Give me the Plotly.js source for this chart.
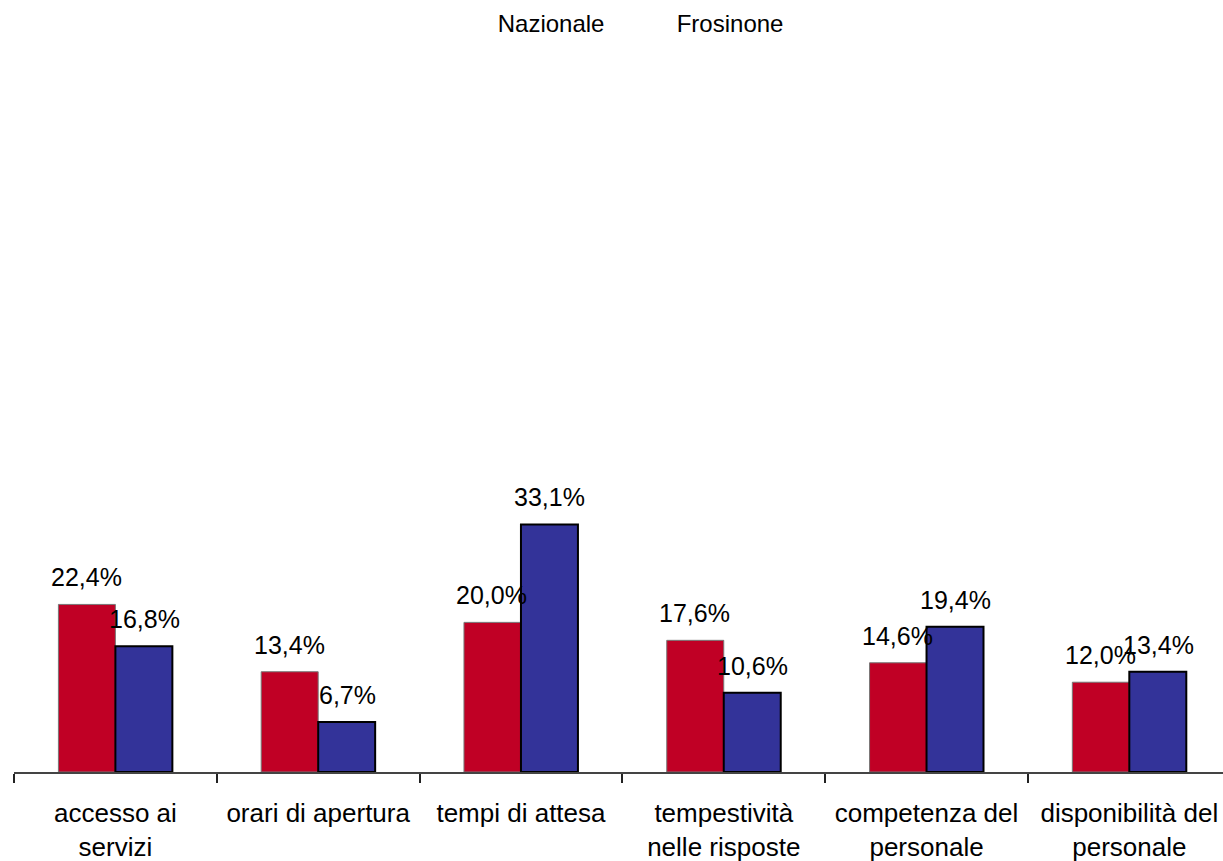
<!DOCTYPE html>
<html>
<head>
<meta charset="utf-8">
<script src="https://cdn.plot.ly/plotly-3.0.1.min.js"></script>
<style>html,body{margin:0;padding:0;background:#fff;}#chart{width:1223px;height:861px;}</style>
</head>
<body>
<div id="chart"></div>
<script>
const categories = ["accesso ai<br>servizi", "orari di apertura", "tempi di attesa", "tempestività<br>nelle risposte", "competenza del<br>personale", "disponibilità del<br>personale"];
const seriesNames = ["Nazionale", "Frosinone"];
const nazionale = [22.4, 13.4, 20.0, 17.6, 14.6, 12.0];
const frosinone = [16.8, 6.7, 33.1, 10.6, 19.4, 13.4];

const FONT = "Liberation Sans, Arial, sans-serif";
const fmt = v => v.toFixed(1).replace('.', ',') + '%';

const traces = [
  {type: 'bar', x: categories, y: nazionale, name: seriesNames[0], showlegend: false,
   marker: {color: '#C00025', line: {color: '#777777', width: 1}}, hoverinfo: 'skip'},
  {type: 'bar', x: categories, y: frosinone, name: seriesNames[1], showlegend: false,
   marker: {color: '#333399', line: {color: '#000000', width: 2}}, hoverinfo: 'skip'},
  {type: 'scatter', mode: 'lines', x: [null], y: [null], name: seriesNames[0],
   line: {color: 'rgba(0,0,0,0)'}, showlegend: true},
  {type: 'scatter', mode: 'lines', x: [null], y: [null], name: seriesNames[1],
   line: {color: 'rgba(0,0,0,0)'}, showlegend: true}
];

const annotations = [];
[nazionale, frosinone].forEach((vals, si) => {
  vals.forEach((v, i) => {
    annotations.push({
      x: categories[i], y: v, xref: 'x', yref: 'y',
      text: fmt(v), showarrow: false,
      xanchor: 'center', yanchor: 'bottom',
      xshift: si === 0 ? -29 : 29, yshift: 11,
      font: {family: FONT, size: 25, color: '#000'}
    });
  });
});

const layout = {
  width: 1223, height: 861,
  margin: {l: 14, r: 0, t: 168, b: 89},
  paper_bgcolor: '#ffffff', plot_bgcolor: '#ffffff',
  barmode: 'group', bargap: 0.438, bargroupgap: 0,
  font: {family: FONT, color: '#000'},
  xaxis: {
    type: 'category', range: [-0.5, 5.462],
    showline: true, linecolor: '#444', linewidth: 2,
    ticks: 'outside', tickson: 'boundaries', ticklen: 9, tickwidth: 2, tickcolor: '#222',
    ticklabelstandoff: 17,
    tickfont: {family: FONT, size: 26, color: '#000'},
    showgrid: false, zeroline: false, fixedrange: true
  },
  yaxis: {visible: false, range: [0, 79], showgrid: false, zeroline: false, fixedrange: true},
  showlegend: true,
  legend: {orientation: 'h', x: 0.367, xanchor: 'left', y: 1.268, yanchor: 'middle',
           yref: 'paper', entrywidth: 134,
           font: {family: FONT, size: 24, color: '#000'}, bgcolor: 'rgba(0,0,0,0)'},
  annotations: annotations
};

Plotly.newPlot('chart', traces, layout, {displayModeBar: false, staticPlot: true});
</script>
</body>
</html>
